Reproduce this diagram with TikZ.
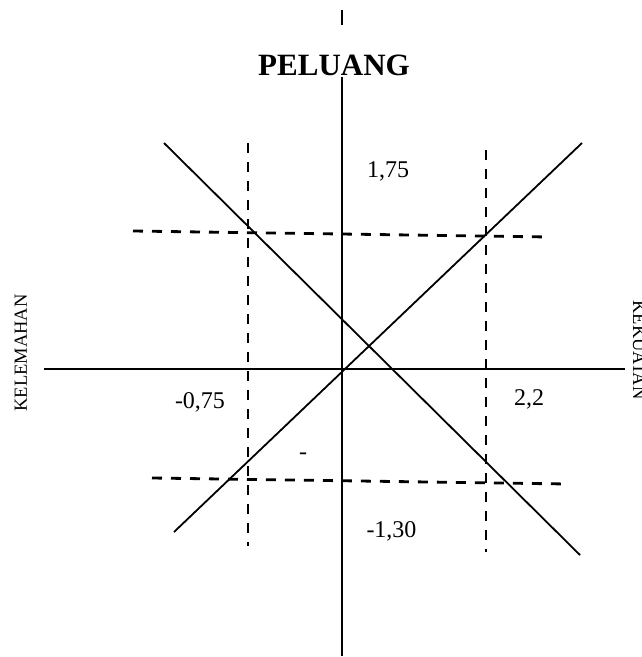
\documentclass[tikz,border=0pt]{standalone}
\usepackage{fontspec}
\setmainfont{Liberation Serif}
\begin{document}
\begin{tikzpicture}[x=1pt,y=-1pt,
  axis/.style={line width=1.9pt,black},
  diag/.style={line width=1.8pt,black},
  dash line/.style={line width=2.8pt,black,dash pattern=on 10pt off 9pt},
  lbl/.style={inner sep=0pt,anchor=base,font=\fontsize{24}{24}\selectfont},
  side/.style={inner sep=0pt,anchor=base,font=\fontsize{18.5}{18.5}\selectfont}]
\useasboundingbox (0,0) rectangle (641,657);
% axes
\coordinate (vt1) at (342,10);
\coordinate (vt2) at (342,25);
\coordinate (vb1) at (342,77);
\coordinate (vb2) at (342,656);
\coordinate (hl) at (44,369);
\coordinate (hr) at (625,369);
\draw[axis] (vt1) -- (vt2);
\draw[axis] (vb1) -- (vb2);
\draw[axis] (hl) -- (hr);
% diagonals
\coordinate (d1a) at (164,143);
\coordinate (d1b) at (580,555);
\coordinate (d2a) at (174,532);
\coordinate (d2b) at (582,143);
\draw[diag] (d1a) -- (d1b);
\draw[diag] (d2a) -- (d2b);
% dashed lines
\coordinate (vl1) at (248,143);
\coordinate (vl2) at (248,546);
\coordinate (vr1) at (486,150);
\coordinate (vr2) at (486,552);
\coordinate (ht1) at (133,231);
\coordinate (ht2) at (549,237);
\coordinate (hb1) at (152,478);
\coordinate (hb2) at (567,484);
\draw[dash line] (vl1) -- (vl2);
\draw[dash line] (vr1) -- (vr2);
\draw[dash line] (ht1) -- (ht2);
\draw[dash line] (hb1) -- (hb2);
% labels
\node[inner sep=0pt,anchor=base,font=\fontsize{31}{31}\selectfont\bfseries] (peluang) at (334,75) {PELUANG};
\node[lbl] (o) at (388,177) {1,75};
\node[lbl] (w) at (200,408) {-0,75};
\node[lbl] (s) at (529,405) {2,2};
\node[lbl] (t) at (391.5,537) {-1,30};
\node[lbl] (m) at (303,459) {-};
\node[side,rotate=90] (kel) at (27,353) {KELEMAHAN};
\node[side,rotate=-90] (kek) at (633,350) {KEKUATAN};
\end{tikzpicture}
\end{document}
